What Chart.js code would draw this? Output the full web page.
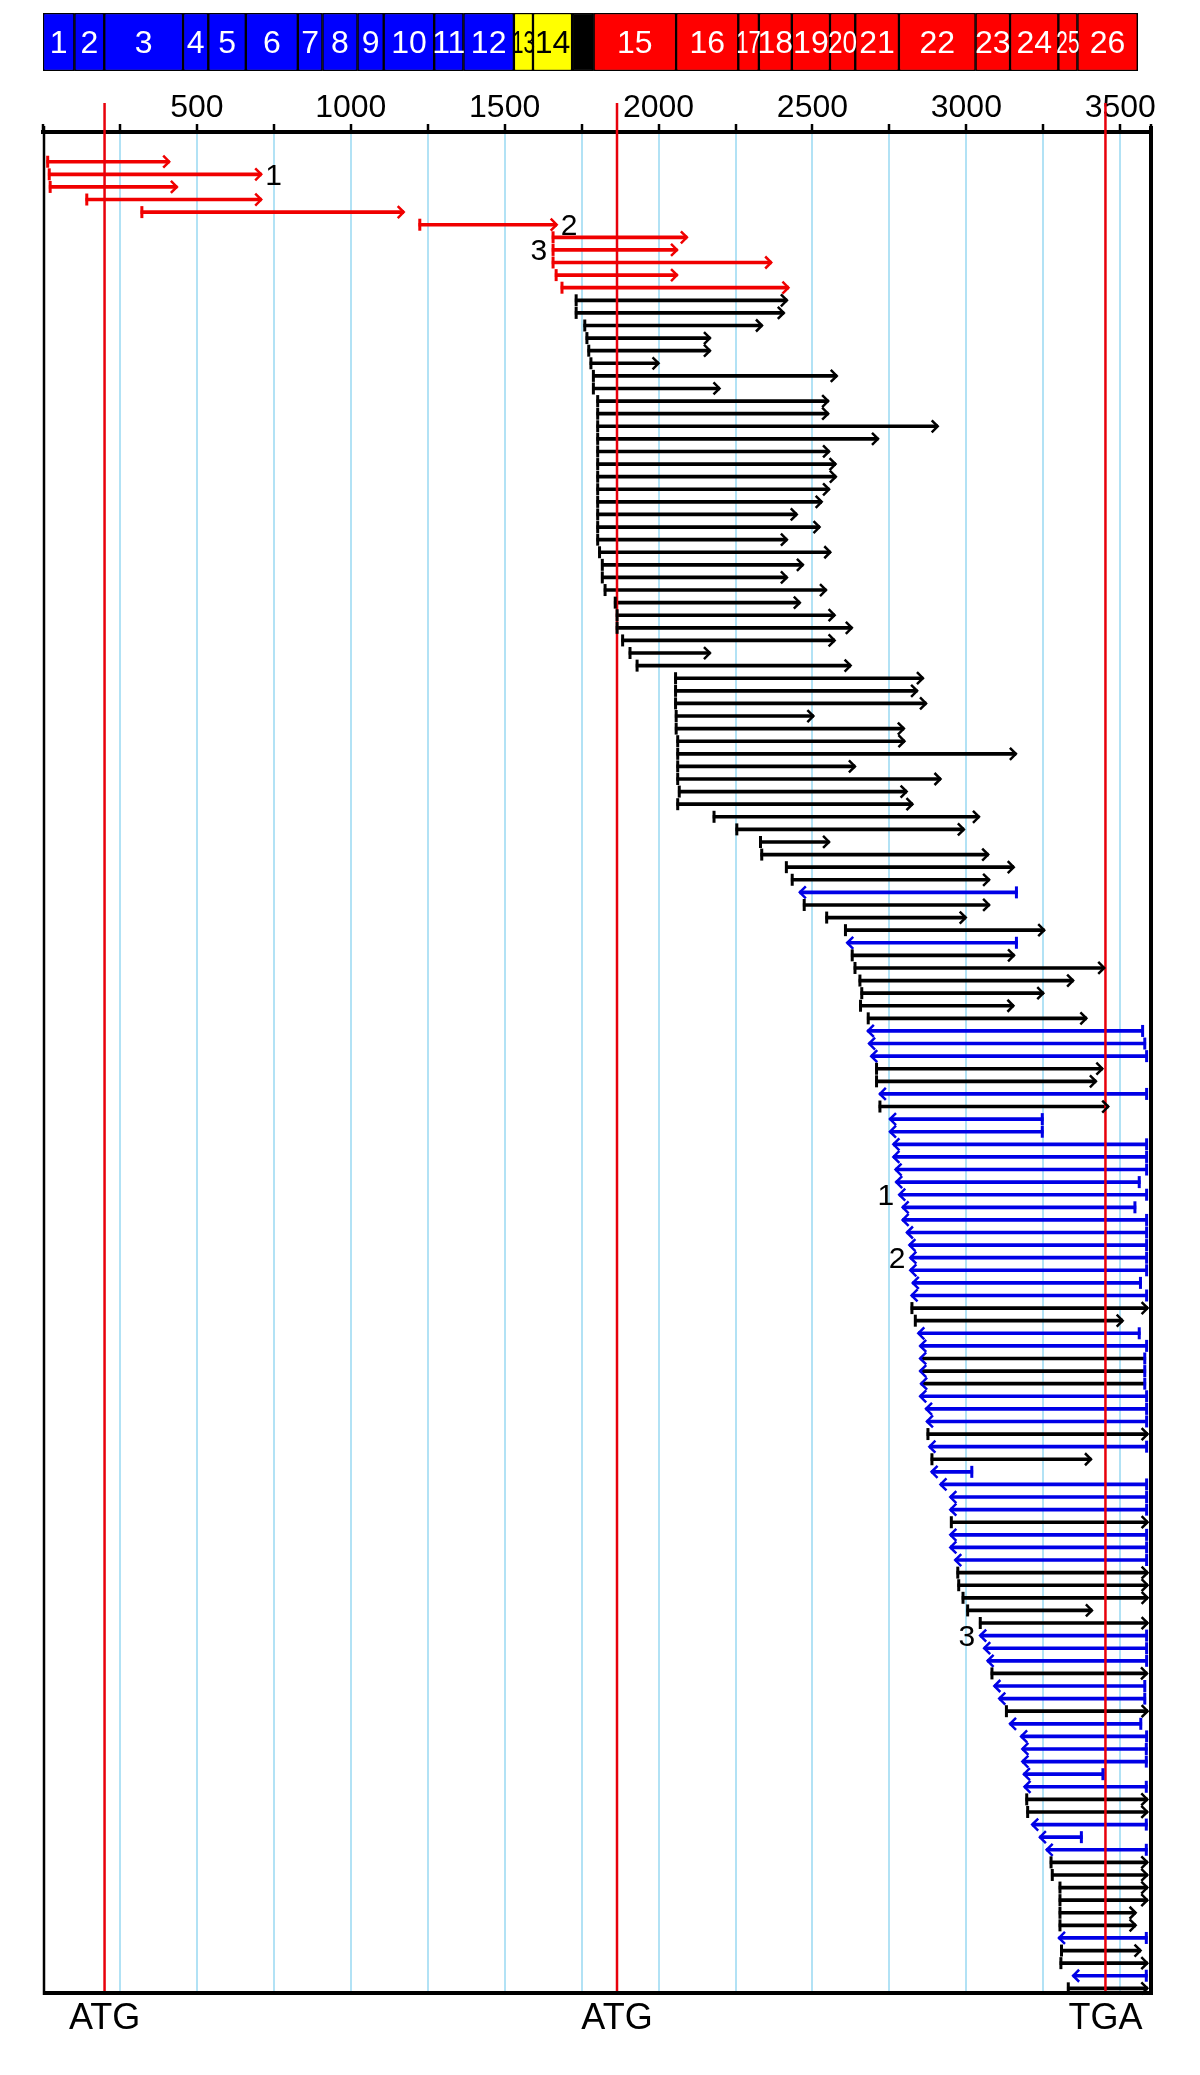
<!DOCTYPE html>
<html>
<head>
<meta charset="utf-8">
<script src="https://cdn.jsdelivr.net/npm/chart.js@4.4.1/dist/chart.umd.min.js"></script>
<style>
  body { margin: 0; background: #fff; }
  #wrap { position: relative; width: 1200px; height: 2075px; }
  #wrap canvas { position: absolute; left: 0; top: 0; }
</style>
</head>
<body>
<div id="wrap">
  <canvas id="mainChart" width="1200" height="2075"></canvas>
  <canvas id="exonChart" width="1200" height="85"></canvas>
</div>
<script>
const FONT = 'Arial, "Liberation Sans", sans-serif';

// exon map (top bar)
const exonNames = ['1','2','3','4','5','6','7','8','9','10','11','12','13','14','',
  '15','16','17','18','19','20','21','22','23','24','25','26'];
const exonStart = [0,102,199,455,537,659,828,908,1022,1107,1271,1366,1530,1592,1719,
  1789,2057,2259,2326,2433,2557,2639,2781,3030,3142,3299,3361];
const exonEnd = [102,199,455,537,659,828,908,1022,1107,1271,1366,1530,1592,1719,1789,
  2057,2259,2326,2433,2557,2639,2781,3030,3142,3299,3361,3557];
const exonType = 'bbbbbbbbbbbbyykrrrrrrrrrrrr'.split('');

// clones: left end, right end, kind (u = red forward, f = black forward, r = blue reverse, m = black line / blue marks)
const rowStart = [12,17,20,139,318,1221,1654,1654,1654,1664,1683,
  1729,1729,1757,1764,1770,1777,1785,1785,1799,1799,1799,1799,1799,1799,1799,1799,1799,1799,1799,1799,1805,1814,1814,
  1823,1856,1862,1862,1880,1904,1927,2052,2052,2052,2054,2054,2059,2059,2059,2059,2064,2059,2177,2251,2328,2332,2412,2431,
  2459,2470,2543,2604,2613,2626,2635,2651,2657,2653,2678,2680,2684,2691,2705,2705,2719,2716,2752,2752,2763,2763,2770,2772,
  2782,2793,2793,2807,2815,2818,2818,2826,2822,2820,2831,2844,2850,2850,2850,2853,2850,2869,2872,2872,2880,2885,
  2887,2916,2948,2948,2948,2948,2948,2964,2969,2972,2986,3001,3042,3045,3058,3069,3080,3091,3107,3127,3142,3178,
  3182,3182,3187,3189,3193,3196,3214,3239,3261,3272,3276,3301,3301,3301,3301,3301,3306,3304,3347,3328];
const rowEnd = [410,709,435,709,1172,1669,2092,2060,2366,2060,2422,
  2417,2407,2336,2167,2167,2000,2579,2198,2551,2551,2907,2713,2554,2575,2576,2554,2530,2449,2523,2417,2558,2469,2417,
  2544,2459,2572,2628,2572,2167,2624,2859,2840,2869,2503,2797,2799,3161,2638,2916,2806,2825,3041,2992,2554,3071,3154,3074,
  3166,3074,2998,3253,3166,3155,3448,3347,3250,3153,3390,3576,3583,3589,3442,3421,3589,3461,3250,3250,3589,3589,3589,3565,
  3589,3551,3589,3589,3589,3589,3589,3569,3589,3589,3508,3565,3589,3583,3583,3583,3589,3589,3589,3589,3589,3405,
  3021,3589,3589,3589,3589,3589,3589,3589,3589,3589,3589,3408,3589,3589,3589,3589,3587,3583,3583,3589,3570,3589,
  3588,3588,3447,3588,3588,3588,3588,3377,3588,3588,3588,3588,3588,3550,3550,3588,3566,3588,3588,3588];
const rowKind = ('uuuuuuuuuuu' +
  'fffffffffffffffffffffff' +
  'ffffffffffffffffffffffff' +
  'rfffrffffffrrrffrfrrrrrr' +
  'rrrrrrrrrffrrmmmrrrfrf' +
  'rrrrfrrrfffffrrrfrrfrr' +
  'rrrrffrrrffffffrffrf').split('');

// numbered clones
const noteRow = [1, 5, 7, 82, 87, 117];
const noteText = ['1', '2', '3', '1', '2', '3'];
const noteSide = ['end', 'end', 'start', 'start', 'start', 'start'];

// start / stop codons
const codonPos = [200, 1865, 3452];
const codonText = ['ATG', 'ATG', 'TGA'];

const xTicks = [500, 1000, 1500, 2000, 2500, 3000, 3500];

const lineColor = { u: '#f00000', f: '#000000', r: '#0000e6', m: '#000000' };
const markColor = { u: '#f00000', f: '#000000', r: '#0000e6', m: '#0000e6' };
const exonColor = { b: '#0000ff', y: '#ffff00', k: '#000000', r: '#ff0000' };
const gridBlue = 'rgb(178, 226, 245)';

// red codon lines + frame
const framePlugin = {
  id: 'frame',
  afterDatasetsDraw(chart) {
    const { ctx, chartArea: a } = chart;
    const x = chart.scales.x;
    ctx.save();
    ctx.strokeStyle = '#e8000b';
    ctx.lineWidth = 2.5;
    codonPos.forEach(v => {
      const px = x.getPixelForValue(v);
      ctx.beginPath();
      ctx.moveTo(px, 103);
      ctx.lineTo(px, a.bottom);
      ctx.stroke();
    });
    ctx.strokeStyle = '#000';
    ctx.lineWidth = 2.5;
    ctx.beginPath();
    ctx.moveTo(a.left + 1, 126);
    ctx.lineTo(a.left + 1, a.bottom + 2);
    ctx.stroke();
    ctx.lineWidth = 4;
    ctx.beginPath();
    ctx.moveTo(a.right, 126);
    ctx.lineTo(a.right, a.bottom + 2);
    ctx.moveTo(a.left, a.bottom);
    ctx.lineTo(a.right + 2, a.bottom);
    ctx.stroke();

    ctx.fillStyle = '#000';
    ctx.font = '36px ' + FONT;
    ctx.textAlign = 'center';
    ctx.textBaseline = 'middle';
    codonPos.forEach((v, i) => {
      ctx.fillText(codonText[i], x.getPixelForValue(v), a.bottom + 26);
    });
    ctx.restore();
  }
};

// start ticks, arrow heads and numbers
const arrowPlugin = {
  id: 'arrows',
  afterDatasetsDraw(chart) {
    const { ctx } = chart;
    const x = chart.scales.x;
    const meta = chart.getDatasetMeta(0);
    ctx.save();
    meta.data.forEach((bar, i) => {
      const k = rowKind[i];
      const y = bar.y;
      const left = x.getPixelForValue(rowStart[i]);
      const right = x.getPixelForValue(rowEnd[i]);
      const rev = k === 'r' || k === 'm';
      ctx.strokeStyle = markColor[k];
      ctx.lineWidth = 3;
      const tx = rev ? right - 1 : left + 1;
      ctx.beginPath();
      ctx.moveTo(tx, y - 6);
      ctx.lineTo(tx, y + 6);
      ctx.stroke();
      ctx.lineWidth = 2.5;
      ctx.beginPath();
      if (rev) {
        ctx.moveTo(left + 6, y - 6);
        ctx.lineTo(left, y);
        ctx.lineTo(left + 6, y + 6);
      } else {
        ctx.moveTo(right - 6, y - 6);
        ctx.lineTo(right, y);
        ctx.lineTo(right - 6, y + 6);
      }
      ctx.stroke();
    });

    ctx.fillStyle = '#000';
    ctx.font = '30px ' + FONT;
    ctx.textBaseline = 'middle';
    noteRow.forEach((r, i) => {
      const y = meta.data[r].y + 2;
      if (noteSide[i] === 'end') {
        ctx.textAlign = 'left';
        ctx.fillText(noteText[i], x.getPixelForValue(rowEnd[r]) + 4, y);
      } else {
        ctx.textAlign = 'right';
        ctx.fillText(noteText[i], x.getPixelForValue(rowStart[r]) - 5, y);
      }
    });
    ctx.restore();
  }
};

new Chart(document.getElementById('mainChart'), {
  type: 'bar',
  data: {
    datasets: [{
      data: rowStart.map((s, i) => ({ x: [s, rowEnd[i]], y: i })),
      backgroundColor: rowKind.map(k => lineColor[k]),
      barThickness: 3,
      borderWidth: 0
    }]
  },
  options: {
    indexAxis: 'y',
    responsive: false,
    animation: false,
    devicePixelRatio: 1,
    layout: { padding: { top: 81, left: 43, right: 49, bottom: 82 } },
    plugins: { legend: { display: false }, tooltip: { enabled: false } },
    scales: {
      x: {
        type: 'linear',
        position: 'top',
        min: 0,
        max: 3600,
        bounds: 'data',
        offset: false,
        afterFit(scale) { scale.height = 51; },
        ticks: {
          stepSize: 250,
          includeBounds: false,
          autoSkip: false,
          maxRotation: 0,
          padding: 0,
          color: '#000',
          font: { family: FONT, size: 32, lineHeight: 1 },
          callback: v => xTicks.includes(v) ? String(v) : ''
        },
        grid: {
          offset: false,
          color: c => (c.tick && c.tick.value === 0) ? 'rgba(0,0,0,0)' : gridBlue,
          lineWidth: 2,
          tickLength: 8,
          tickColor: '#000',
          tickWidth: 2.5
        },
        border: { display: true, color: '#000', width: 4 }
      },
      y: {
        type: 'linear',
        reverse: true,
        min: -2.36,
        max: 145.37,
        bounds: 'data',
        offset: false,
        grid: { offset: false },
        display: false
      }
    }
  },
  plugins: [framePlugin, arrowPlugin]
});

// exon numbers inside the top bar
const exonLabelPlugin = {
  id: 'exonLabels',
  afterDatasetsDraw(chart) {
    const { ctx } = chart;
    const x = chart.scales.x;
    const meta = chart.getDatasetMeta(0);
    ctx.save();
    ctx.font = '32px ' + FONT;
    ctx.textAlign = 'center';
    ctx.textBaseline = 'middle';
    meta.data.forEach((bar, i) => {
      if (!exonNames[i]) return;
      const a = x.getPixelForValue(exonStart[i]);
      const b = x.getPixelForValue(exonEnd[i]);
      ctx.fillStyle = exonType[i] === 'y' ? '#000' : '#fff';
      ctx.fillText(exonNames[i], (a + b) / 2, bar.y + 2, b - a + 4);
    });
    ctx.restore();
  }
};

new Chart(document.getElementById('exonChart'), {
  type: 'bar',
  data: {
    datasets: [{
      data: exonStart.map((s, i) => ({ x: [s, exonEnd[i]], y: 0 })),
      backgroundColor: exonType.map(t => exonColor[t]),
      borderColor: '#000',
      borderWidth: 1.5,
      borderSkipped: false,
      barThickness: 58
    }]
  },
  options: {
    indexAxis: 'y',
    responsive: false,
    animation: false,
    devicePixelRatio: 1,
    layout: { padding: { top: 13, left: 43, right: 49, bottom: 14 } },
    plugins: { legend: { display: false }, tooltip: { enabled: false } },
    scales: {
      x: { type: 'linear', min: 0, max: 3600, bounds: 'data', offset: false, display: false },
      y: { type: 'linear', min: -0.5, max: 0.5, bounds: 'data', offset: false, display: false }
    }
  },
  plugins: [exonLabelPlugin]
});
</script>
</body>
</html>
